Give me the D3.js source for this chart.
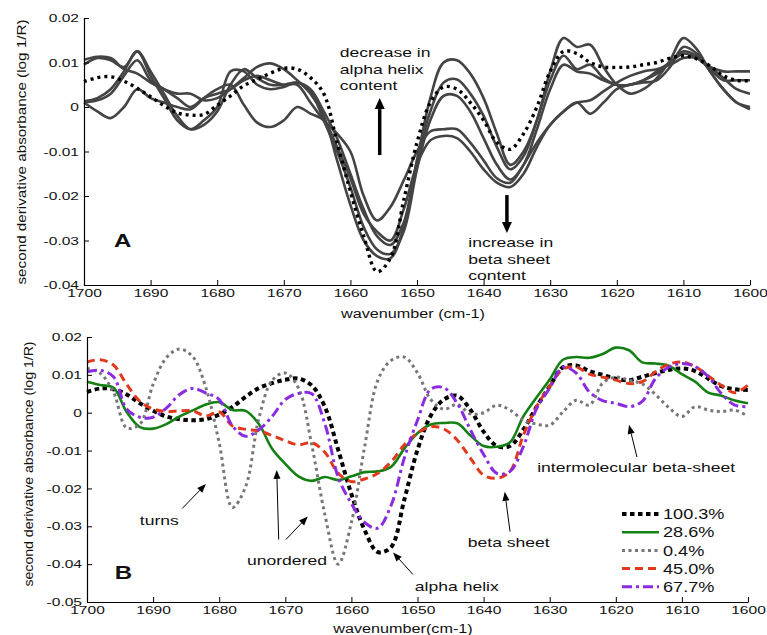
<!DOCTYPE html>
<html>
<head>
<meta charset="utf-8">
<script src="https://cdn.jsdelivr.net/npm/d3@7"></script>
<style>
  body { margin: 0; background: #fff; }
  svg { display: block; font-family: "Liberation Sans", Arial, sans-serif; }
</style>
</head>
<body>
<svg id="chart" width="767" height="635"></svg>
<script>
// wavenumber grid shared by every spectrum (cm-1)
const wavenumber = [1700, 1698, 1696, 1694, 1692, 1690, 1688, 1686, 1684, 1682, 1680, 1678, 1676, 1674, 1672,
  1670, 1668, 1666, 1664, 1662, 1660, 1658, 1656, 1654, 1652, 1650, 1648, 1646, 1644, 1642, 1640, 1638, 1636,
  1634, 1632, 1630, 1628, 1626, 1624, 1622, 1620, 1618, 1616, 1614, 1612, 1610, 1608, 1606, 1604, 1602, 1600];

const xTicks = [1700, 1690, 1680, 1670, 1660, 1650, 1640, 1630, 1620, 1610, 1600];
const yTicksA = [0.02, 0.01, 0, -0.01, -0.02, -0.03, -0.04];
const yTicksB = [0.02, 0.01, 0, -0.01, -0.02, -0.03, -0.04, -0.05];

// panel A: reference spectrum (dotted) and five spectra (solid grey)
const aRef = [0.0057, 0.0066, 0.0068, 0.0058, 0.0042, 0.0023, 0.0003, -0.0013, -0.0018, -0.0017, 0.0004, 0.0025,
  0.0048, 0.0062, 0.0076, 0.0087, 0.0085, 0.0066, 0.0030, -0.0080, -0.0190, -0.0290, -0.0370, -0.0340, -0.0210,
  -0.0080, 0.0010, 0.0045, 0.0040, 0.0010, -0.0030, -0.0080, -0.0095, -0.0060, 0.0000, 0.0080, 0.0125, 0.0120,
  0.0100, 0.0090, 0.0089, 0.0090, 0.0095, 0.0100, 0.0110, 0.0115, 0.0108, 0.0092, 0.0070, 0.0060, 0.0059];
const aG1 = [0.0106, 0.0113, 0.0110, 0.0085, 0.0075, 0.0055, 0.0040, 0.0030, 0.0030, 0.0015, 0.0020, 0.0040,
  0.0065, 0.0090, 0.0098, 0.0085, 0.0060, 0.0030, -0.0020, -0.0120, -0.0220, -0.0300, -0.0335, -0.0340, -0.0270,
  -0.0120, 0.0020, 0.0100, 0.0105, 0.0075, 0.0020, -0.0060, -0.0130, -0.0100, -0.0030, 0.0080, 0.0155, 0.0135,
  0.0140, 0.0090, 0.0050, 0.0030, 0.0040, 0.0065, 0.0105, 0.0155, 0.0130, 0.0080, 0.0040, 0.0010, 0.0000];
const aG2 = [0.0095, 0.0110, 0.0105, 0.0090, 0.0125, 0.0080, 0.0030, -0.0020, -0.0050, -0.0040, -0.0010, 0.0050,
  0.0085, 0.0065, 0.0050, 0.0050, 0.0055, 0.0040, -0.0010, -0.0070, -0.0150, -0.0230, -0.0290, -0.0310, -0.0260,
  -0.0120, -0.0010, 0.0055, 0.0062, 0.0030, -0.0020, -0.0090, -0.0140, -0.0110, -0.0030, 0.0060, 0.0115, 0.0085,
  0.0095, 0.0065, 0.0050, 0.0050, 0.0060, 0.0080, 0.0100, 0.0120, 0.0110, 0.0090, 0.0065, 0.0040, 0.0030];
const aG3 = [0.0013, 0.0020, 0.0040, 0.0080, 0.0125, 0.0070, 0.0020, -0.0030, -0.0050, -0.0030, 0.0000, 0.0080,
  0.0080, 0.0050, 0.0040, 0.0045, 0.0055, 0.0035, -0.0030, -0.0100, -0.0180, -0.0270, -0.0320, -0.0330, -0.0280,
  -0.0140, -0.0030, 0.0025, 0.0025, -0.0010, -0.0070, -0.0130, -0.0163, -0.0130, -0.0050, 0.0040, 0.0095, 0.0080,
  0.0075, 0.0060, 0.0050, 0.0050, 0.0060, 0.0075, 0.0100, 0.0125, 0.0115, 0.0090, 0.0080, 0.0080, 0.0080];
const aG4 = [0.0010, 0.0015, 0.0030, 0.0070, 0.0105, 0.0060, 0.0040, 0.0020, 0.0000, 0.0020, 0.0030, 0.0040,
  0.0060, 0.0070, 0.0060, 0.0050, 0.0050, 0.0010, -0.0030, -0.0060, -0.0100, -0.0200, -0.0255, -0.0225, -0.0165,
  -0.0100, -0.0055, -0.0050, -0.0050, -0.0080, -0.0120, -0.0160, -0.0170, -0.0130, -0.0080, -0.0040, -0.0010,
  0.0010, 0.0015, 0.0035, 0.0055, 0.0070, 0.0080, 0.0085, 0.0095, 0.0110, 0.0110, 0.0085, 0.0060, 0.0060, 0.0060];
const aG5 = [0.0010, -0.0010, -0.0025, 0.0000, 0.0040, 0.0020, 0.0010, 0.0000, -0.0005, 0.0020, 0.0040, 0.0050,
  0.0005, -0.0035, -0.0045, -0.0030, 0.0000, -0.0015, -0.0030, -0.0090, -0.0160, -0.0240, -0.0280, -0.0300, -0.0230,
  -0.0130, -0.0075, -0.0065, -0.0070, -0.0100, -0.0140, -0.0170, -0.0180, -0.0150, -0.0090, -0.0040, -0.0010,
  0.0010, -0.0015, 0.0010, 0.0040, 0.0050, 0.0055, 0.0060, 0.0090, 0.0135, 0.0120, 0.0080, 0.0040, 0.0010, -0.0005];

// panel B: spectra per helix content
const b1003 = [0.0055, 0.0064, 0.0062, 0.0048, 0.0025, 0.0005, -0.0010, -0.0017, -0.0020, -0.0017, -0.0005, 0.0015,
  0.0042, 0.0065, 0.0078, 0.0087, 0.0090, 0.0072, 0.0015, -0.0098, -0.0215, -0.0310, -0.0368, -0.0355, -0.0230,
  -0.0098, -0.0008, 0.0035, 0.0045, 0.0008, -0.0050, -0.0088, -0.0088, -0.0045, 0.0015, 0.0070, 0.0120, 0.0125,
  0.0110, 0.0100, 0.0090, 0.0086, 0.0095, 0.0105, 0.0113, 0.0117, 0.0110, 0.0090, 0.0070, 0.0062, 0.0060];
const b286 = [0.0082, 0.0073, 0.0066, 0.0002, -0.0038, -0.0042, -0.0030, -0.0010, 0.0006, 0.0022, 0.0028, 0.0007,
  0.0005, -0.0030, -0.0095, -0.0135, -0.0168, -0.0180, -0.0170, -0.0178, -0.0168, -0.0157, -0.0155, -0.0143,
  -0.0095, -0.0054, -0.0031, -0.0027, -0.0028, -0.0060, -0.0088, -0.0090, -0.0078, -0.0010, 0.0040, 0.0088, 0.0140,
  0.0147, 0.0145, 0.0155, 0.0172, 0.0165, 0.0133, 0.0130, 0.0124, 0.0102, 0.0082, 0.0053, 0.0045, 0.0032, 0.0025];
const b04 = [0.0117, 0.0104, 0.0055, -0.0040, -0.0030, 0.0075, 0.0145, 0.0168, 0.0148, 0.0065, -0.0080, -0.0250,
  -0.0195, -0.0015, 0.0085, 0.0105, 0.0065, -0.0085, -0.0270, -0.0400, -0.0290, -0.0090, 0.0086, 0.0138, 0.0147,
  0.0105, 0.0035, 0.0009, 0.0022, -0.0003, 0.0000, 0.0020, 0.0007, -0.0019, -0.0030, -0.0033, 0.0002, 0.0033,
  0.0020, 0.0078, 0.0094, 0.0086, 0.0076, 0.0048, 0.0014, -0.0010, 0.0016, 0.0007, 0.0003, 0.0007, -0.0010];
const b450 = [0.0134, 0.0140, 0.0126, 0.0075, 0.0030, 0.0010, 0.0003, 0.0005, 0.0005, -0.0009, 0.0002, -0.0035,
  -0.0044, -0.0048, -0.0060, -0.0074, -0.0085, -0.0079, -0.0105, -0.0160, -0.0182, -0.0175, -0.0160, -0.0130,
  -0.0085, -0.0054, -0.0037, -0.0043, -0.0072, -0.0120, -0.0165, -0.0173, -0.0155, -0.0060, 0.0015, 0.0070, 0.0115,
  0.0121, 0.0102, 0.0094, 0.0086, 0.0077, 0.0082, 0.0108, 0.0128, 0.0134, 0.0122, 0.0097, 0.0072, 0.0053, 0.0073];
const b677 = [0.0108, 0.0112, 0.0095, 0.0010, -0.0012, -0.0012, 0.0012, 0.0048, 0.0064, 0.0052, 0.0035, -0.0035,
  -0.0062, -0.0045, -0.0010, 0.0035, 0.0051, 0.0050, -0.0030, -0.0170, -0.0240, -0.0290, -0.0305, -0.0245, -0.0120,
  -0.0020, 0.0062, 0.0066, 0.0025, -0.0045, -0.0110, -0.0160, -0.0155, -0.0090, 0.0010, 0.0065, 0.0120, 0.0105,
  0.0055, 0.0032, 0.0025, 0.0016, 0.0030, 0.0090, 0.0120, 0.0130, 0.0122, 0.0095, 0.0050, 0.0020, 0.0016];

const legendLabels = ["100.3%", "28.6%", "0.4%", "45.0%", "67.7%"];

const svg = d3.select("#chart");
const STRETCH = 1.35;   // the original figure text is wide, stretch glyphs horizontally

const xA = d3.scaleLinear().domain([1700, 1600]).range([84, 750]);
const yA = d3.scaleLinear().domain([-0.04, 0.02]).range([285, 18]);
const xB = d3.scaleLinear().domain([1700, 1600]).range([87, 748]);
const yB = d3.scaleLinear().domain([-0.05, 0.02]).range([602, 337]);

function stretch(sel, k) {
  sel.each(function () {
    const w = this.getComputedTextLength();
    d3.select(this).attr("textLength", w * k).attr("lengthAdjust", "spacingAndGlyphs");
  });
}

function drawAxes(x, y, yTicks) {
  const gx = svg.append("g")
    .attr("transform", `translate(0,${y.range()[0]})`)
    .call(d3.axisBottom(x).tickValues(xTicks).tickFormat(d3.format("d"))
      .tickSizeInner(-5).tickSizeOuter(0).tickPadding(4));
  const gy = svg.append("g")
    .attr("transform", `translate(${x.range()[0]},0)`)
    .call(d3.axisLeft(y).tickValues(yTicks).tickFormat(d => d === 0 ? "0" : d.toFixed(2))
      .tickSizeInner(-5).tickSizeOuter(0).tickPadding(5));
  [gx, gy].forEach(g => {
    g.attr("font-family", null).attr("font-size", 11.5);
    g.select(".domain").attr("stroke", "#000").attr("stroke-width", 1.2);
    g.selectAll(".tick line").attr("stroke", "#000");
    g.selectAll(".tick text").attr("fill", "#111").call(stretch, STRETCH);
  });
}

function lineGen(x, y, curve) {
  return d3.line()
    .x((d, i) => x(wavenumber[i]))
    .y(d => y(d))
    .curve(curve);
}

function label(txt, px, py, size, opts = {}) {
  return svg.append("text")
    .attr("x", px).attr("y", py)
    .attr("font-size", size)
    .attr("font-weight", opts.bold ? "bold" : null)
    .attr("text-anchor", opts.anchor || "start")
    .attr("fill", "#111")
    .text(txt)
    .call(stretch, opts.k || STRETCH);
}

function arrow(x1, y1, x2, y2, w, headLen, headW) {
  const ang = Math.atan2(y2 - y1, x2 - x1);
  const bx = x2 - headLen * Math.cos(ang), by = y2 - headLen * Math.sin(ang);
  svg.append("line")
    .attr("x1", x1).attr("y1", y1).attr("x2", bx).attr("y2", by)
    .attr("stroke", "#000").attr("stroke-width", w);
  const nx = -Math.sin(ang) * headW / 2, ny = Math.cos(ang) * headW / 2;
  svg.append("path")
    .attr("d", `M${x2},${y2}L${bx + nx},${by + ny}L${bx - nx},${by - ny}Z`)
    .attr("fill", "#000");
}

// ---------- panel A ----------
const lineA = lineGen(xA, yA, d3.curveCatmullRom.alpha(0.5));
svg.append("g").selectAll("path")
  .data([aG1, aG2, aG3, aG4, aG5])
  .enter().append("path")
  .attr("d", lineA)
  .attr("fill", "none")
  .attr("stroke", "#444")
  .attr("stroke-width", 2.6)
  .attr("stroke-linejoin", "round");
svg.append("path")
  .attr("d", lineGen(xA, yA, d3.curveCatmullRom)(aRef))
  .attr("fill", "none")
  .attr("stroke", "#000")
  .attr("stroke-width", 3.4)
  .attr("stroke-dasharray", "3,4");

drawAxes(xA, yA, yTicksA);

label("A", xA(1695.5), yA(-0.0315), 18.5, { bold: true, k: 1.3 });
["decrease in", "alpha helix", "content"].forEach((t, i) =>
  label(t, xA(1661.6), yA(0.0112) + i * 16.5, 13));
["increase in", "beta sheet", "content"].forEach((t, i) =>
  label(t, xA(1642.3), yA(-0.0315) + i * 16.5, 13));
arrow(xA(1655.6), yA(-0.0108), xA(1655.6), yA(0.0020), 3.5, 11, 10);
arrow(xA(1636.5), yA(-0.0198), xA(1636.5), yA(-0.0283), 3.5, 11, 10);

svg.append("text")
  .attr("x", 413).attr("y", 318)
  .attr("text-anchor", "middle").attr("font-size", 12).attr("fill", "#111")
  .text("wavenumber (cm-1)")
  .call(stretch, STRETCH);
svg.append("text")
  .attr("transform", "translate(26,152) rotate(-90)")
  .attr("text-anchor", "middle").attr("font-size", 13).attr("fill", "#111")
  .attr("textLength", 265).attr("lengthAdjust", "spacingAndGlyphs")
  .text("second derivative absorbance (log 1/R)");

// ---------- panel B ----------
const seriesB = [
  { values: b1003, color: "#000", width: 4, dash: "4.5,3.5" },
  { values: b286, color: "#138013", width: 2.6, dash: null },
  { values: b04, color: "#777", width: 3, dash: "3,3.5" },
  { values: b450, color: "#e2381c", width: 3, dash: "8,5" },
  { values: b677, color: "#8a2be2", width: 3, dash: "10,4,3,4" }
];
const lineB = lineGen(xB, yB, d3.curveCatmullRom);
svg.append("g").selectAll("path")
  .data(seriesB)
  .enter().append("path")
  .attr("d", d => lineB(d.values))
  .attr("fill", "none")
  .attr("stroke", d => d.color)
  .attr("stroke-width", d => d.width)
  .attr("stroke-dasharray", d => d.dash);

drawAxes(xB, yB, yTicksB);

label("B", xB(1695.8), yB(-0.0438), 18.5, { bold: true, k: 1.3 });

label("turns", xB(1692), yB(-0.0296), 13);
arrow(xB(1685.6), yB(-0.0253), xB(1682), yB(-0.0188), 1, 9, 7);
label("unordered", xB(1675.8), yB(-0.0401), 13);
arrow(xB(1671), yB(-0.0335), xB(1671.3), yB(-0.0151), 1, 9, 7);
arrow(xB(1669.9), yB(-0.0335), xB(1666.6), yB(-0.0274), 1, 9, 7);
label("alpha helix", xB(1650.4), yB(-0.0472), 13);
arrow(xB(1650.7), yB(-0.0427), xB(1653.7), yB(-0.0369), 1, 9, 7);
label("beta sheet", xB(1642.4), yB(-0.0356), 13);
arrow(xB(1636), yB(-0.0314), xB(1636.8), yB(-0.0209), 1, 9, 7);
label("intermolecular beta-sheet", xB(1631.9), yB(-0.0156), 13);
arrow(xB(1616.8), yB(-0.0117), xB(1618), yB(-0.0032), 1, 9, 7);

// legend
const legend = svg.append("g").attr("transform", "translate(622,514)");
seriesB.forEach((s, i) => {
  const row = legend.append("g").attr("transform", `translate(0,${i * 18.2})`);
  row.append("line")
    .attr("x1", 0).attr("x2", 37).attr("y1", 0).attr("y2", 0)
    .attr("stroke", s.color).attr("stroke-width", s.width)
    .attr("stroke-dasharray", s.dash);
  row.append("text")
    .attr("x", 41).attr("y", 0).attr("dy", "0.36em")
    .attr("font-size", 14.5).attr("fill", "#111")
    .text(legendLabels[i])
    .call(stretch, 1.25);
});

svg.append("text")
  .attr("x", 403).attr("y", 633)
  .attr("text-anchor", "middle").attr("font-size", 12).attr("fill", "#111")
  .text("wavenumber(cm-1)")
  .call(stretch, STRETCH);
svg.append("text")
  .attr("transform", "translate(33,464) rotate(-90)")
  .attr("text-anchor", "middle").attr("font-size", 13).attr("fill", "#111")
  .attr("textLength", 245).attr("lengthAdjust", "spacingAndGlyphs")
  .text("second derivative absorbance (log 1/R)");
</script>
</body>
</html>
